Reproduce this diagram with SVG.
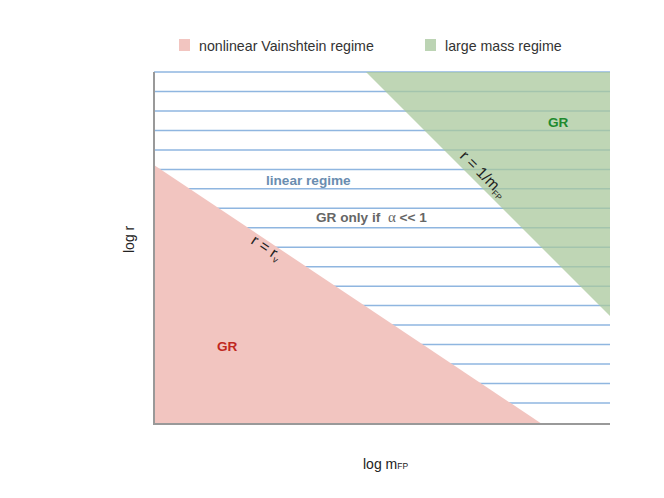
<svg xmlns="http://www.w3.org/2000/svg" width="664" height="498" viewBox="0 0 664 498">
<style>
text{font-family:"Liberation Sans",Arial,sans-serif;}
.hl{stroke:#8fb6e0;stroke-width:1.5;}
.ax{stroke:#999;stroke-width:2;fill:none;}
.leg{font-size:14.2px;fill:#333;}
.b{font-weight:bold;font-size:13.6px;}
.lab{font-size:14px;fill:#222;}
.rl{font-size:15.5px;fill:#222;}
</style>
<rect width="664" height="498" fill="#fff"/>
<g id="legend">
<rect x="179" y="39" width="11" height="12" fill="#f2c5c0"/>
<text class="leg" x="199" y="51">nonlinear Vainshtein regime</text>
<rect x="425" y="39" width="11" height="12" fill="#bcd4b4"/>
<text class="leg" x="445" y="51">large mass regime</text>
</g>
<g id="connectors">
<g id="grid">
<line class="hl" x1="154" y1="72" x2="610" y2="72"/>
<line class="hl" x1="154" y1="91.5" x2="610" y2="91.5"/>
<line class="hl" x1="154" y1="111" x2="610" y2="111"/>
<line class="hl" x1="154" y1="130.4" x2="610" y2="130.4"/>
<line class="hl" x1="154" y1="149.9" x2="610" y2="149.9"/>
<line class="hl" x1="154" y1="169.4" x2="610" y2="169.4"/>
<line class="hl" x1="154" y1="188.8" x2="610" y2="188.8"/>
<line class="hl" x1="154" y1="208.3" x2="610" y2="208.3"/>
<line class="hl" x1="154" y1="227.8" x2="610" y2="227.8"/>
<line class="hl" x1="154" y1="247.2" x2="610" y2="247.2"/>
<line class="hl" x1="154" y1="266.7" x2="610" y2="266.7"/>
<line class="hl" x1="154" y1="286.2" x2="610" y2="286.2"/>
<line class="hl" x1="154" y1="305.6" x2="610" y2="305.6"/>
<line class="hl" x1="154" y1="325.1" x2="610" y2="325.1"/>
<line class="hl" x1="154" y1="344.6" x2="610" y2="344.6"/>
<line class="hl" x1="154" y1="364" x2="610" y2="364"/>
<line class="hl" x1="154" y1="383.5" x2="610" y2="383.5"/>
<line class="hl" x1="154" y1="403" x2="610" y2="403"/>
</g>
</g>
<g id="large-mass">
<polygon points="366,72 610,72 610,316" fill="#a9c89c" fill-opacity="0.75"/>
<text class="b" x="548" y="127" fill="#1e8a2e">GR</text>
<text class="rl" transform="translate(459,157) rotate(45)">r = 1/m<tspan font-size="8" dy="3">FP</tspan></text>
</g>
<g id="vainshtein">
<polygon points="154,165 154,424 542,424" fill="#f2c5c0"/>
<text class="b" x="217" y="351" fill="#c0281e">GR</text>
<text class="rl" transform="translate(250,243) rotate(33.7)">r = r<tspan font-size="9" dy="3">v</tspan></text>
</g>
<g id="linear">
<text class="b" x="266" y="185" fill="#6a8db0">linear regime</text>
<text class="b" x="316" y="222" fill="#666">GR only if <tspan dx="4" font-family="'Liberation Serif',serif" font-weight="normal" font-size="15">α</tspan> &lt;&lt; 1</text>
</g>
<g id="axes">
<polyline class="ax" points="154,72 154,424 610,424"/>
<text class="lab" transform="translate(134,253) rotate(-90)">log r</text>
<text class="lab" x="363" y="469">log m<tspan font-size="8.5">FP</tspan></text>
</g>
</svg>
